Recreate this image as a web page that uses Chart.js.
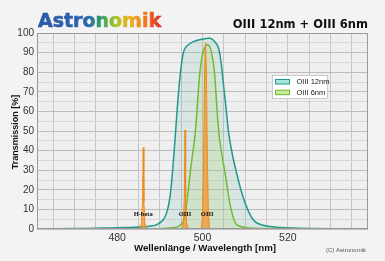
<!DOCTYPE html>
<html><head><meta charset="utf-8">
<script src="https://cdn.jsdelivr.net/npm/chart.js@4/dist/chart.umd.min.js"></script>
<style>html,body{margin:0;padding:0;background:#f3f3f3;}canvas{display:block;}</style>
</head><body>
<canvas id="c" width="385" height="261"></canvas>
<script>
// ---- data ----
const nm12   = [461.2,470,475,480,485,488,489.5,490.8,491.7,492.4,493,493.5,494.3,495.1,495.9,497.9,499.8,501.8,502.9,503.8,504.4,505,505.6,506.2,507,508,509,510,511,512,513,515,518,525,538.8];
const tr12   = [0,0.2,0.4,0.6,1.0,1.5,2.5,4.7,9,16.6,30,44,67.5,84.6,92.2,95.6,96.8,97.3,95.5,92,84,72,60,48,38,28.5,20,13.2,8,4.5,2.8,1.5,0.8,0.3,0];
const nm6    = [461.2,485,490,493,494.5,495.5,496.3,497.1,497.6,498.2,498.6,499,499.4,499.9,500.5,501,501.7,502.3,502.8,503.2,503.6,504,504.6,505.3,505.9,506.4,507.2,508,510,515,538.8];
const tr6    = [0,0,0.1,0.6,1.5,4,13.2,28.5,37,47,57,70,80,88,92.5,94,93,88,80,68,55,46,37,28.5,20,13.2,6,2.2,0.8,0.2,0];
const hbetaNm = [485.3,485.7,485.95,486.1,486.25,486.5,486.9];
const hbetaTr = [0,3,14,41.5,14,3,0];
const oiiiANm = [495.1,495.5,495.75,495.9,496.05,496.3,496.7];
const oiiiATr = [0,3,16,50.5,16,3,0];
const oiiiBNm = [499.7,500.0,500.25,500.5,500.7,500.9,501.15,501.4,501.7];
const oiiiBTr = [0,6,35,82,95,82,35,6,0];
const lineLabels = ['H-beta','OIII','OIII'];
const lineLabelNm = [486.1,495.9,501.1];
const seriesNames = ['OIII 12nm','OIII 6nm'];
const xTickValues = [465,470,475,480,485,490,495,500,505,510,515,520,525,530,535];

const pts = (xs, ys) => xs.map((x,i)=>({x, y: ys[i]}));
const TEAL = '#21998b', GREEN = '#72ba32', ORANGE = '#f08a1c';
const NARROW = "'Liberation Sans Narrow','Liberation Sans',sans-serif";

const decor = {
  id: 'decor',
  beforeDraw(chart) {
    const {ctx, chartArea: a} = chart;
    ctx.save();
    ctx.fillStyle = '#f3f3f3';
    ctx.fillRect(0,0,chart.width,chart.height);
    ctx.fillStyle = '#efefef';
    ctx.fillRect(a.left,a.top,a.right-a.left,a.bottom-a.top);
    ctx.restore();
  },
  afterDraw(chart) {
    const {ctx, chartArea: a, scales} = chart;
    ctx.save();
    ctx.strokeStyle = '#9a9a9a'; ctx.lineWidth = 1;
    ctx.strokeRect(Math.round(a.left)+0.5, Math.round(a.top)+0.5, Math.round(a.right-a.left)-1, Math.round(a.bottom-a.top)-1);
    // logo
    ctx.font = "bold 19px 'DejaVu Sans'";
    ctx.textBaseline = 'alphabetic'; ctx.textAlign = 'left';
    const g = ctx.createLinearGradient(38,0,162,0);
    g.addColorStop(0,'#2b58a8'); g.addColorStop(0.4,'#2e66b0'); g.addColorStop(0.5,'#2e9a70');
    g.addColorStop(0.62,'#a6c22c'); g.addColorStop(0.74,'#efb21e'); g.addColorStop(0.87,'#f07420'); g.addColorStop(1,'#e02a2a');
    ctx.fillStyle = g; ctx.strokeStyle = g; ctx.lineWidth = 0.6;
    ctx.fillText('Astronomik', 38, 27); ctx.strokeText('Astronomik', 38, 27);
    // title
    ctx.fillStyle = '#111'; ctx.font = "bold 11.5px 'DejaVu Sans'";
    ctx.textAlign = 'right';
    ctx.fillText('OIII 12nm + OIII 6nm', 368, 27.5);
    // axis titles
    ctx.font = "bold 9.7px 'Liberation Sans'"; ctx.textAlign = 'center'; ctx.textBaseline = 'middle';
    ctx.fillText('Wellenlänge / Wavelength [nm]', 205, 248.5);
    ctx.save(); ctx.translate(16, 132); ctx.rotate(-Math.PI/2);
    ctx.font = "bold 9px 'Liberation Sans'";
    ctx.fillText('Transmission [%]', 0, 0); ctx.restore();
    ctx.font = "6px 'Liberation Sans'"; ctx.fillStyle = '#555';
    ctx.fillText('(C) Astronomik', 346, 250);
    // emission line labels
    ctx.font = "bold 6.5px 'Liberation Serif'"; ctx.fillStyle = '#111';
    lineLabels.forEach((t,i)=>{
      ctx.fillText(t, scales.x.getPixelForValue(lineLabelNm[i]), scales.y.getPixelForValue(7.3));
    });
    // legend
    ctx.fillStyle = '#ffffff'; ctx.fillRect(272,75,56,24);
    ctx.strokeStyle = '#a8a8a8'; ctx.strokeRect(272.5,75.5,55,23);
    const sw = [['#a6e6df',TEAL],['#c9e89c',GREEN]];
    ctx.font = "7.5px " + NARROW; ctx.textAlign = 'left';
    seriesNames.forEach((n,i)=>{
      const y = 79.5 + i*10.7;
      ctx.fillStyle = sw[i][0]; ctx.fillRect(275.5,y,14,4.5);
      ctx.strokeStyle = sw[i][1]; ctx.lineWidth = 1; ctx.strokeRect(275.5,y,14,4.5);
      ctx.fillStyle = '#222'; ctx.fillText(n, 296.5, y+2.6);
    });
    ctx.restore();
  }
};

new Chart(document.getElementById('c'), {
  type: 'line',
  data: { datasets: [
    { label: 'H-beta', data: pts(hbetaNm,hbetaTr), borderColor: ORANGE, backgroundColor: 'rgba(245,145,35,0.7)', borderWidth: 1, fill: 'origin', tension: 0, pointRadius: 0, order: 0 },
    { label: 'OIII 495.9', data: pts(oiiiANm,oiiiATr), borderColor: ORANGE, backgroundColor: 'rgba(245,145,35,0.7)', borderWidth: 1, fill: 'origin', tension: 0, pointRadius: 0, order: 0 },
    { label: 'OIII 500.7', data: pts(oiiiBNm,oiiiBTr), borderColor: ORANGE, backgroundColor: 'rgba(245,145,35,0.7)', borderWidth: 1, fill: 'origin', tension: 0, pointRadius: 0, order: 0 },
    { label: seriesNames[1], data: pts(nm6,tr6), borderColor: GREEN, backgroundColor: 'rgba(180,220,120,0.22)', borderWidth: 1.5, fill: 'origin', tension: 0.35, pointRadius: 0, order: 1 },
    { label: seriesNames[0], data: pts(nm12,tr12), borderColor: TEAL, backgroundColor: 'rgba(130,190,180,0.2)', borderWidth: 1.5, fill: 'origin', tension: 0.35, pointRadius: 0, order: 2 }
  ]},
  options: {
    responsive: false, animation: false, devicePixelRatio: 1,
    layout: { padding: { top: 33, right: 17, left: 0, bottom: 0 } },
    plugins: { legend: { display: false }, tooltip: { enabled: false }, title: { display: false } },
    scales: {
      x: { type: 'linear', min: 461.2, max: 538.8,
        afterBuildTicks: s => { s.ticks = xTickValues.map(v=>({value: v})); },
        afterFit: s => { s.height = 32; },
        grid: { color: '#c4c4c4', drawTicks: false, lineWidth: 1 },
        border: { display: false },
        ticks: { autoSkip: false, maxRotation: 0, padding: 3, color: '#333', font: { family: NARROW, size: 10.5 },
          callback: v => (v % 20 === 0 ? String(v) : '') } },
      y: { min: 0, max: 100,
        afterFit: s => { s.width = 37; },
        grid: { color: c => (c.tick && c.tick.value % 10 === 0 ? '#bcbcbc' : '#d6d6d6'), drawTicks: false },
        border: { display: false },
        ticks: { stepSize: 5, autoSkip: false, padding: 3, color: '#333', font: { family: NARROW, size: 10 },
          callback: v => (v % 10 === 0 ? String(v) : '') } }
    }
  },
  plugins: [decor]
});
</script>
</body></html>
